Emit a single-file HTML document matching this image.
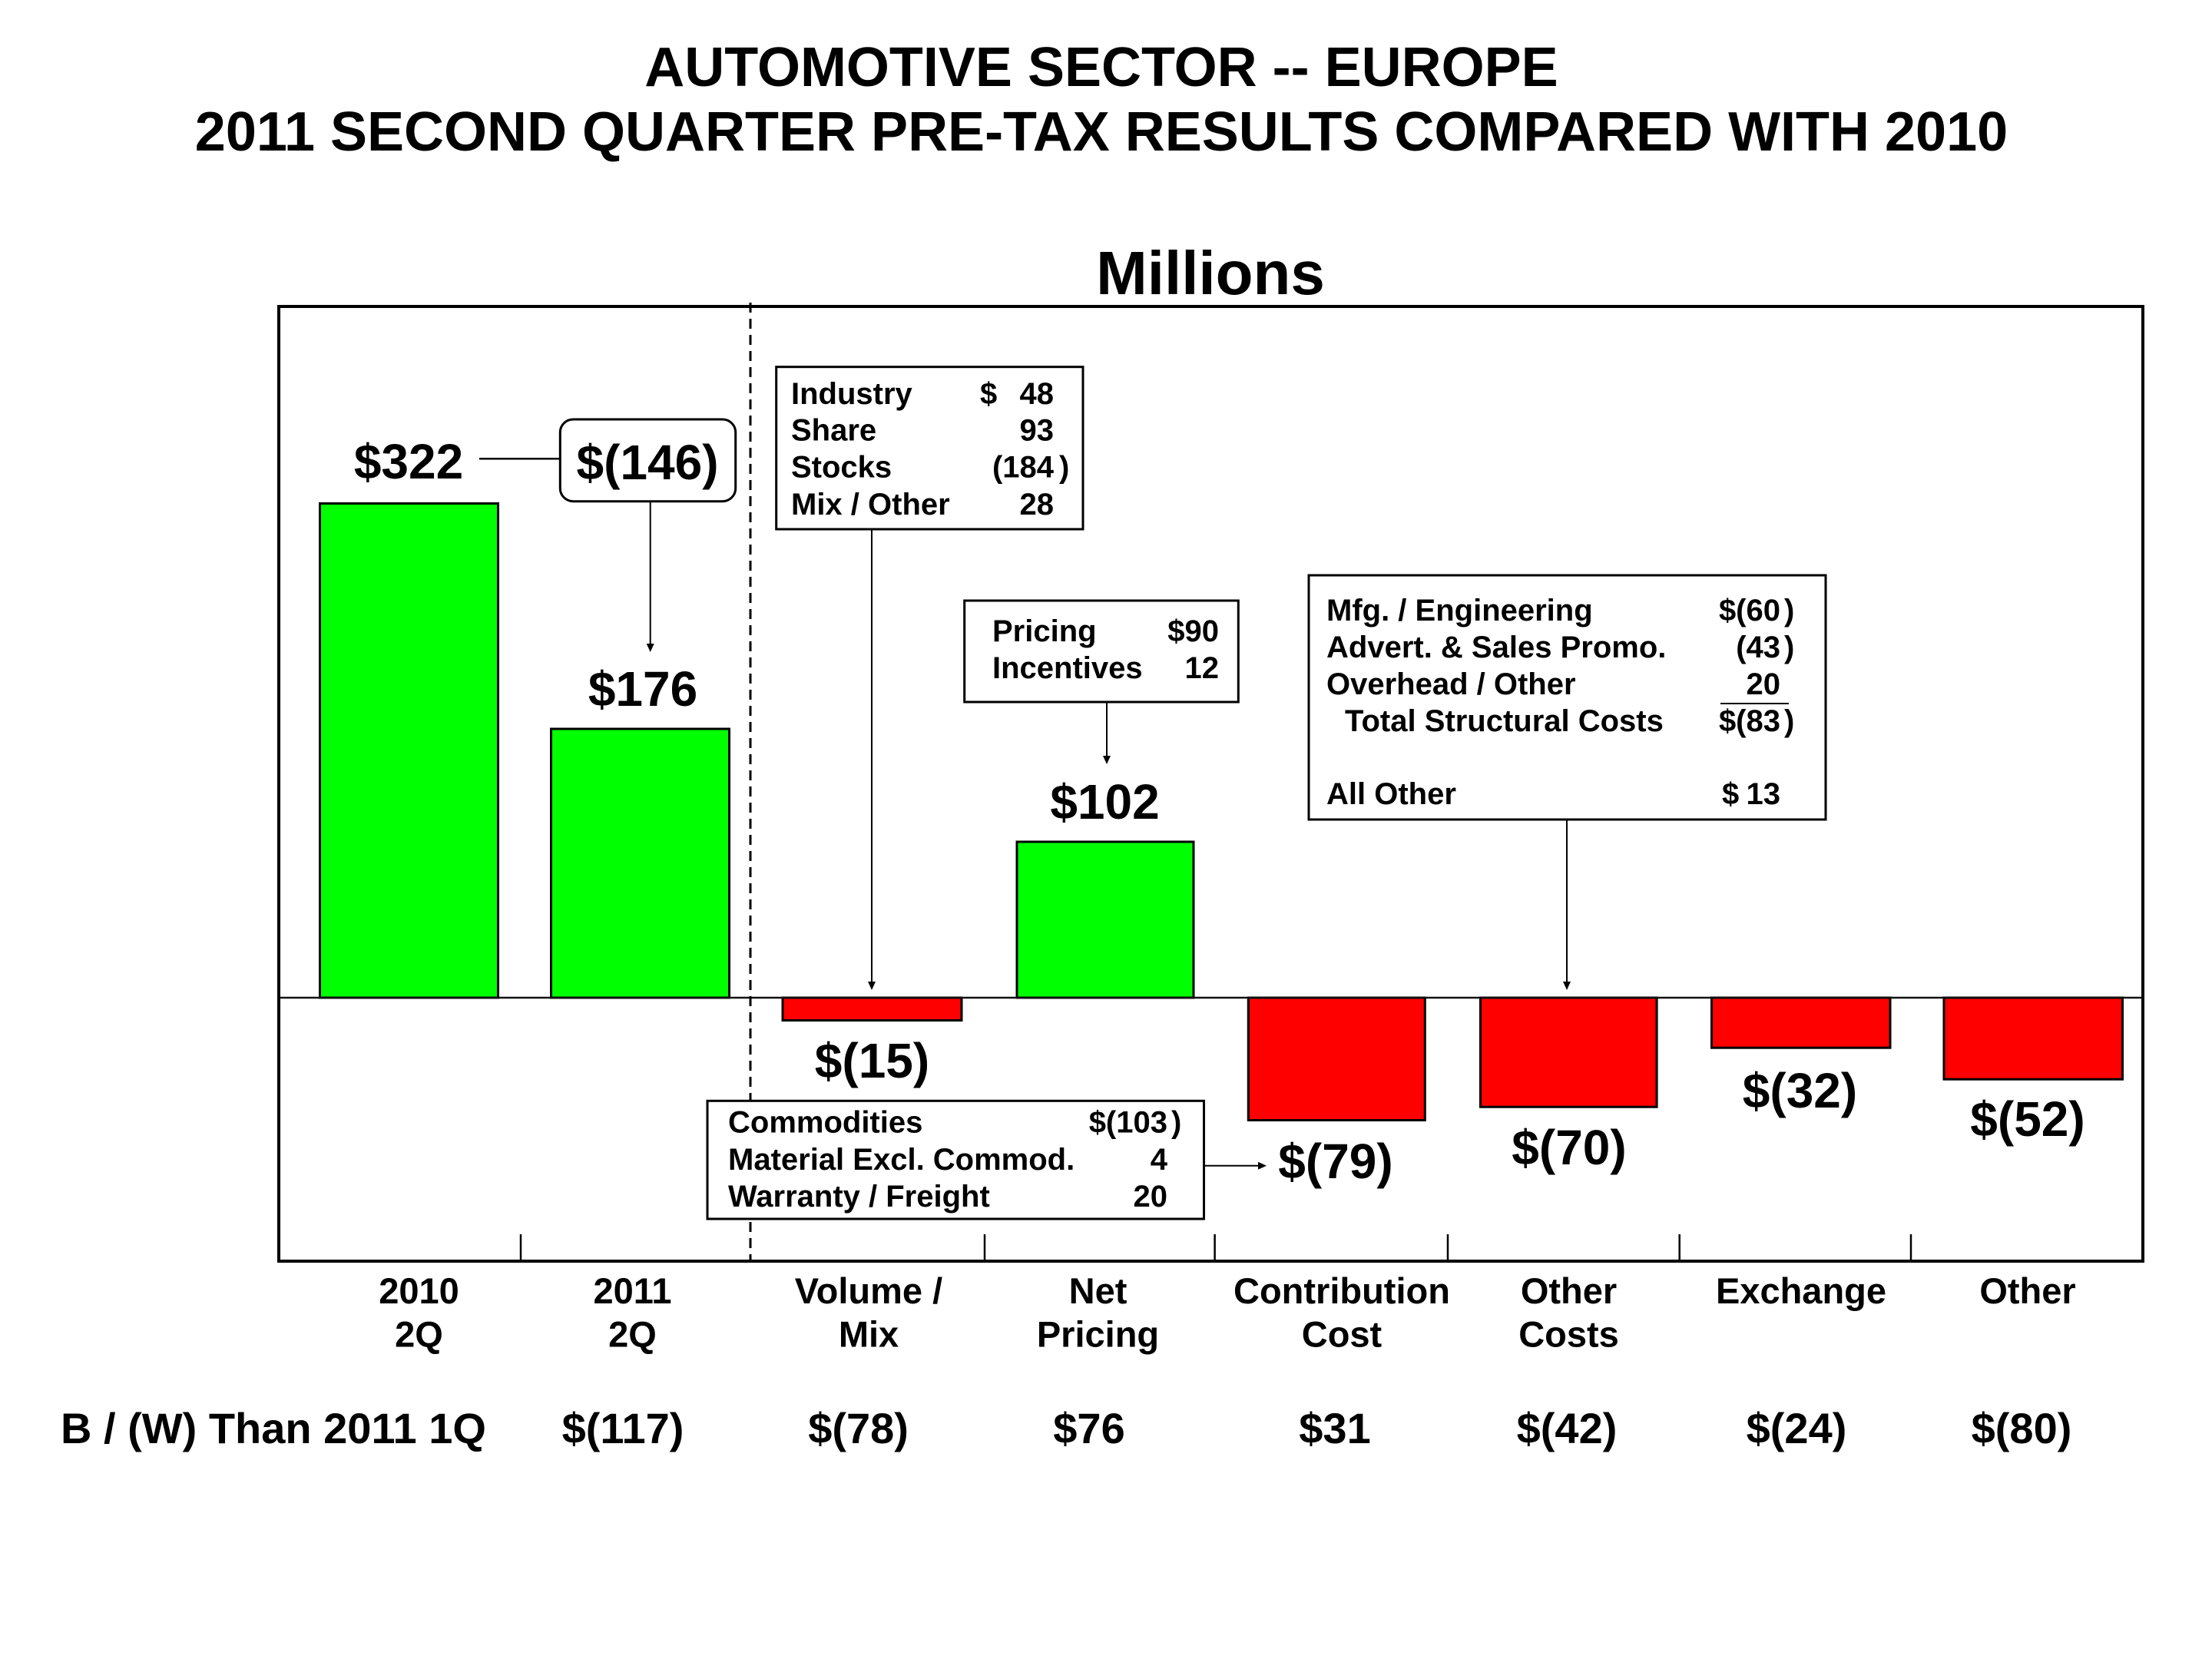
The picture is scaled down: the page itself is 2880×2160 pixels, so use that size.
<!DOCTYPE html>
<html>
<head>
<meta charset="utf-8">
<style>
html,body{margin:0;padding:0;background:#fff;}
svg{display:block;}
text{font-family:"Liberation Sans",Arial,Helvetica,sans-serif;font-weight:bold;fill:#000;}
</style>
</head>
<body>
<svg width="2880" height="2160" viewBox="0 0 2880 2160" xmlns="http://www.w3.org/2000/svg">
<rect x="0" y="0" width="2880" height="2160" fill="#ffffff"/>

<!-- Titles -->
<text x="1434" y="112" font-size="72" text-anchor="middle">AUTOMOTIVE SECTOR -- EUROPE</text>
<text x="1434" y="196" font-size="72" text-anchor="middle">2011 SECOND QUARTER PRE-TAX RESULTS COMPARED WITH 2010</text>
<text x="1576" y="383" font-size="80" text-anchor="middle">Millions</text>

<!-- Bars (green positive) -->
<g stroke="#000" stroke-width="3">
  <rect x="416.5" y="655.5" width="232" height="643.5" fill="#00ff00"/>
  <rect x="717.5" y="949" width="232" height="350" fill="#00ff00"/>
  <rect x="1324" y="1096" width="230" height="203" fill="#00ff00"/>
  <!-- red negative -->
  <rect x="1019" y="1299" width="233" height="29.5" fill="#ff0000"/>
  <rect x="1625.3" y="1299" width="230" height="159.5" fill="#ff0000"/>
  <rect x="1927.5" y="1299" width="229.6" height="142.2" fill="#ff0000"/>
  <rect x="2228.5" y="1299" width="232.5" height="65.2" fill="#ff0000"/>
  <rect x="2531" y="1299" width="232.5" height="106.2" fill="#ff0000"/>
</g>

<!-- zero line -->
<line x1="363" y1="1299" x2="2790" y2="1299" stroke="#111" stroke-width="2.5"/>

<!-- plot frame -->
<rect x="363" y="399" width="2427" height="1243" fill="none" stroke="#000" stroke-width="4"/>

<!-- dashed separator -->
<line x1="977" y1="394" x2="977" y2="1642" stroke="#000" stroke-width="3" stroke-dasharray="13 8"/>

<!-- ticks -->
<g stroke="#000" stroke-width="2.5">
  <line x1="678" y1="1607" x2="678" y2="1642"/>
  <line x1="1282" y1="1607" x2="1282" y2="1642"/>
  <line x1="1581.6" y1="1607" x2="1581.6" y2="1642"/>
  <line x1="1885" y1="1607" x2="1885" y2="1642"/>
  <line x1="2186.7" y1="1607" x2="2186.7" y2="1642"/>
  <line x1="2488" y1="1607" x2="2488" y2="1642"/>
</g>

<!-- Bar value labels -->
<g font-size="64" text-anchor="middle">
  <text x="532" y="623">$322</text>
  <text x="837" y="919">$176</text>
  <text x="1438.5" y="1066">$102</text>
  <text x="1135.5" y="1403">$(15)</text>
  <text x="1739" y="1534">$(79)</text>
  <text x="2043" y="1516">$(70)</text>
  <text x="2343.5" y="1442">$(32)</text>
  <text x="2640" y="1479">$(52)</text>
</g>

<!-- $322 connector and $(146) box -->
<line x1="624" y1="597.3" x2="729.3" y2="597.3" stroke="#000" stroke-width="2.5"/>
<rect x="729.3" y="546" width="228.4" height="106.7" rx="17" ry="17" fill="#fff" stroke="#000" stroke-width="3"/>
<text x="843" y="624" font-size="64" text-anchor="middle">$(146)</text>
<line x1="846.7" y1="652.7" x2="846.7" y2="840" stroke="#000" stroke-width="2"/>
<polygon points="841.7,838 851.7,838 846.7,849" fill="#000"/>

<!-- Industry box -->
<rect x="1010.7" y="477.7" width="399.3" height="211.3" fill="#fff" stroke="#000" stroke-width="3"/>
<g font-size="40">
  <text x="1030" y="526">Industry</text>
  <text x="1030" y="573.5">Share</text>
  <text x="1030" y="621.5">Stocks</text>
  <text x="1030" y="670">Mix / Other</text>
  <text x="1276" y="526">$</text>
  <text x="1372" y="526" text-anchor="end">48</text>
  <text x="1372" y="573.5" text-anchor="end">93</text>
  <text x="1372" y="621.5" text-anchor="end">(184</text>
  <text x="1379" y="621.5">)</text>
  <text x="1372" y="670" text-anchor="end">28</text>
</g>
<line x1="1135" y1="689" x2="1135" y2="1280" stroke="#000" stroke-width="2"/>
<polygon points="1130,1278 1140,1278 1135,1289" fill="#000"/>

<!-- Pricing box -->
<rect x="1255.7" y="782" width="356.6" height="132" fill="#fff" stroke="#000" stroke-width="3"/>
<g font-size="40">
  <text x="1292" y="835">Pricing</text>
  <text x="1292" y="883">Incentives</text>
  <text x="1587" y="835" text-anchor="end">$90</text>
  <text x="1587" y="883" text-anchor="end">12</text>
</g>
<line x1="1441" y1="914" x2="1441" y2="986" stroke="#000" stroke-width="2"/>
<polygon points="1436,984 1446,984 1441,995" fill="#000"/>

<!-- Structural costs box -->
<rect x="1704" y="749" width="673" height="318" fill="#fff" stroke="#000" stroke-width="3"/>
<g font-size="40">
  <text x="1727" y="808">Mfg. / Engineering</text>
  <text x="1727" y="856">Advert. &amp; Sales Promo.</text>
  <text x="1727" y="904">Overhead / Other</text>
  <text x="1751" y="952">Total Structural Costs</text>
  <text x="1727" y="1047">All Other</text>
  <text x="2318" y="808" text-anchor="end">$(60</text>
  <text x="2323" y="808">)</text>
  <text x="2318" y="856" text-anchor="end">(43</text>
  <text x="2323" y="856">)</text>
  <text x="2318" y="904" text-anchor="end">20</text>
  <text x="2318" y="952" text-anchor="end">$(83</text>
  <text x="2323" y="952">)</text>
  <text x="2242" y="1047">$</text>
  <text x="2318" y="1047" text-anchor="end">13</text>
</g>
<line x1="2240" y1="916" x2="2329" y2="916" stroke="#000" stroke-width="2"/>
<line x1="2040" y1="1067" x2="2040" y2="1280" stroke="#000" stroke-width="2"/>
<polygon points="2035,1278 2045,1278 2040,1289" fill="#000"/>

<!-- Commodities box -->
<rect x="921" y="1433.3" width="646.5" height="153.7" fill="#fff" stroke="#000" stroke-width="3"/>
<g font-size="40">
  <text x="948" y="1474.5">Commodities</text>
  <text x="948" y="1523">Material Excl. Commod.</text>
  <text x="948" y="1571">Warranty / Freight</text>
  <text x="1520" y="1474.5" text-anchor="end">$(103</text>
  <text x="1525" y="1474.5">)</text>
  <text x="1520" y="1523" text-anchor="end">4</text>
  <text x="1520" y="1571" text-anchor="end">20</text>
</g>
<line x1="1567.5" y1="1517.7" x2="1640" y2="1517.7" stroke="#000" stroke-width="2"/>
<polygon points="1638,1512.7 1638,1522.7 1649,1517.7" fill="#000"/>

<!-- Category labels -->
<g font-size="47" text-anchor="middle">
  <text x="545.5" y="1697">2010</text>
  <text x="545.5" y="1753.5">2Q</text>
  <text x="823.5" y="1697">2011</text>
  <text x="823.5" y="1753.5">2Q</text>
  <text x="1131" y="1697">Volume /</text>
  <text x="1131" y="1753.5">Mix</text>
  <text x="1429.5" y="1697">Net</text>
  <text x="1429.5" y="1753.5">Pricing</text>
  <text x="1747" y="1697">Contribution</text>
  <text x="1747" y="1753.5">Cost</text>
  <text x="2042.5" y="1697">Other</text>
  <text x="2042.5" y="1753.5">Costs</text>
  <text x="2345" y="1697">Exchange</text>
  <text x="2640" y="1697">Other</text>
</g>

<!-- B/(W) row -->
<g font-size="56">
  <text x="79" y="1879">B / (W) Than 2011 1Q</text>
  <text x="811" y="1879" text-anchor="middle">$(117)</text>
  <text x="1117.6" y="1879" text-anchor="middle">$(78)</text>
  <text x="1418" y="1879" text-anchor="middle">$76</text>
  <text x="1738" y="1879" text-anchor="middle">$31</text>
  <text x="2040" y="1879" text-anchor="middle">$(42)</text>
  <text x="2339" y="1879" text-anchor="middle">$(24)</text>
  <text x="2632" y="1879" text-anchor="middle">$(80)</text>
</g>
</svg>
</body>
</html>
